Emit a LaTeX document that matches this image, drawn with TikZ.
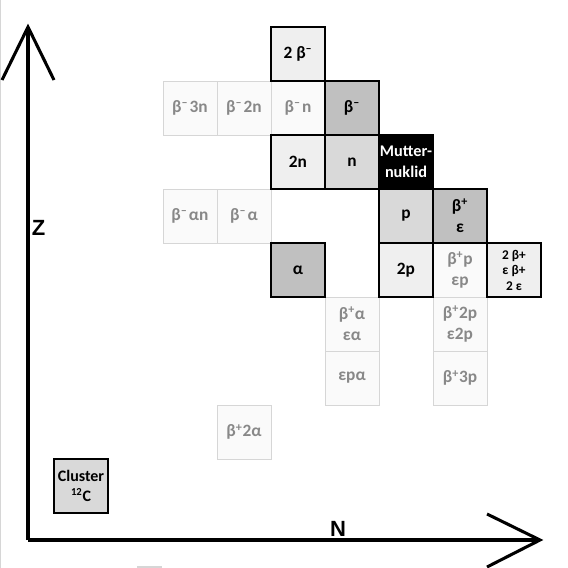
\documentclass[tikz,border=0pt]{standalone}
\usepackage{fontspec}
\setmainfont{Carlito}
\newfontfamily\axisfont{Liberation Sans}
\definecolor{lightfill}{HTML}{FAFAFA}
\definecolor{lightborder}{HTML}{D6D6D6}
\definecolor{lighttext}{HTML}{888888}
\definecolor{palefill}{HTML}{EFEFEF}
\definecolor{midfill}{HTML}{D9D9D9}
\definecolor{darkfill}{HTML}{C0C0C0}
\newcommand{\supminus}{\textsuperscript{–}}
\newcommand{\bm}{\supminus\kern1pt}
\newcommand{\bp}{\textsuperscript{+}}
\tikzset{
  cellbase/.style={rectangle, minimum width=40.5pt, minimum height=40.5pt, inner sep=0pt,
     align=center, font=\fontsize{13}{15.8}\selectfont\bfseries},
  lightcell/.style={cellbase, fill=lightfill, draw=lightborder, line width=0.75pt, text=lighttext},
  thincell/.style={cellbase, fill=palefill, draw=black, line width=0.8pt},
  midcell/.style={cellbase, fill=palefill, draw=black, line width=1.5pt},
  thickcell/.style={cellbase, fill=darkfill, draw=black, line width=2.2pt},
  greycell/.style={cellbase, fill=midfill, draw=black, line width=2.2pt},
  mothercell/.style={cellbase, fill=black, draw=black, line width=1pt, text=white,
     font=\fontsize{12.2}{15.8}\selectfont\bfseries},
  axisline/.style={line width=2.3pt, line cap=butt, line join=miter},
  axislabel/.style={font=\axisfont\fontsize{16.5}{16.5}\selectfont\bfseries, inner sep=0pt}
}
\begin{document}
\begin{tikzpicture}[x=0.75pt, y=-0.75pt]
\useasboundingbox (0,0) rectangle (568,568);
\fill[white] (0,0) rectangle (568,568);
% faint edge artefacts
\draw[lightborder, line width=0.9pt] (0.6,0) -- (0.6,568);
\fill[lightborder] (137,566) rectangle (162,568);

% light (rare) decay cells
\node[lightcell] (b3n) at (190,108) {β\bm 3n};
\node[lightcell] (b2n) at (244,108) {β\bm 2n};
\node[lightcell] (b1n) at (298,108) {β\bm n};
\node[lightcell] (ban) at (190,216) {β\bm αn};
\node[lightcell] (ba)  at (244,216) {β\bm α};
\node[lightcell] (bpp) at (460,270) {β\bp p\\εp};
\node[lightcell] (bpa) at (352,324) {β\bp α\\εα};
\node[lightcell] (epa) at (352,378) {εpα};
\node[lightcell] (bp2p) at (460,324) {β\bp 2p\\ε2p};
\node[lightcell] (bp3p) at (460,378) {β\bp 3p};
\node[lightcell] (bp2a) at (244,432) {β\bp 2α};

% main cells
\node[thincell] (bb) at (298,54) {2 β\supminus};
\node[midcell] (nn) at (298,162) {2n};
\node[thincell] (pp) at (406,270) {2p};
\node[thincell, font=\fontsize{10}{11.6}\selectfont\bfseries] (dbp) at (514,270) {2 β+\\ε β+\\2 ε};
\node[greycell] (n) at (352,162) {n};
\node[greycell] (p) at (406,216) {p};
\node[thickcell] (bminus) at (352,108) {β\supminus};
\node[thickcell] (bplus) at (460,216) {β\bp\\ε};
\node[thickcell] (alpha) at (298,270) {α};
\node[mothercell] (mother) at (406,162) {Mutter-\\nuklid};
\node[greycell, line width=1.8pt, font=\fontsize{12}{15}\selectfont\bfseries] (cluster) at (81,486) {Cluster\\\textsuperscript{12}C};

% axes
\coordinate (origin) at (28,540);
\coordinate (ztip) at (28,27);
\coordinate (ntip) at (540,540);
\coordinate (zl) at (2,80);
\coordinate (zr) at (54,80);
\coordinate (nu) at (487,514);
\coordinate (nd) at (487,567);
\draw[axisline] (origin) -- (ztip);
\draw[axisline] (origin) -- (ntip);
\draw[axisline] (zl) -- (ztip) -- (zr);
\draw[axisline] (nu) -- (ntip) -- (nd);
\node[axislabel] (zlabel) at (38.5,227.5) {Z};
\node[axislabel] (nlabel) at (338,529) {N};
\end{tikzpicture}
\end{document}
